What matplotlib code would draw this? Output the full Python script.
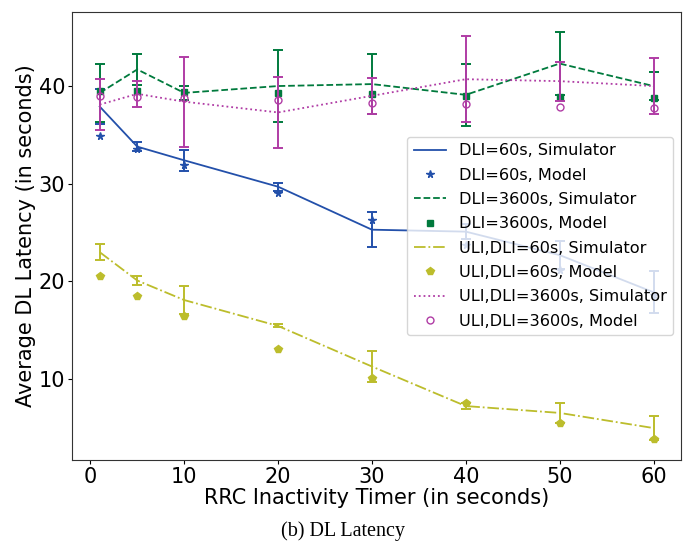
import matplotlib
matplotlib.use("Agg")
import matplotlib.pyplot as plt

timer = [1, 5, 10, 20, 30, 40, 50, 60]

dli60_sim = [37.9, 33.8, 32.4, 29.7, 25.3, 25.1, 22.7, 18.9]
dli60_err = [1.8, 0.45, 1.1, 0.4, 1.8, 0.8, 1.45, 2.15]
dli60_model = [34.9, 33.6, 31.9, 29.1, 26.3, 23.7, 21.2, 18.6]

dli3600_sim = [39.3, 41.7, 39.3, 40.0, 40.2, 39.1, 42.3, 40.0]
dli3600_err = [3.0, 1.6, 0.7, 3.7, 3.1, 3.2, 3.2, 1.4]
dli3600_model = [39.5, 39.45, 39.35, 39.25, 39.2, 39.0, 38.9, 38.8]

uli60_sim = [23.0, 20.1, 18.1, 15.45, 11.3, 7.25, 6.55, 5.0]
uli60_err = [0.85, 0.5, 1.4, 0.15, 1.6, 0.3, 1.0, 1.2]
uli60_model = [20.55, 18.5, 16.5, 13.05, 10.1, 7.6, 5.55, 3.85]

uli3600_sim = [38.1, 39.2, 38.4, 37.3, 39.0, 40.7, 40.5, 40.0]
uli3600_err = [2.6, 1.3, 4.6, 3.6, 1.85, 4.4, 2.0, 2.9]
uli3600_model = [39.0, 38.9, 38.8, 38.6, 38.3, 38.15, 37.9, 37.75]

BLUE = "#2350aa"
GREEN = "#007a3d"
OLIVE = "#bcbd2c"
MAGENTA = "#b03ca5"

plt.rcParams.update({
    "font.family": "DejaVu Sans",
    "font.size": 15,
    "axes.edgecolor": "#333333",
})


def plot(plot_file):
    fig = plt.figure(figsize=(6.86, 5.42), dpi=100)
    ax = fig.add_subplot()
    plt.subplots_adjust(left=0.105, right=0.993, top=0.978, bottom=0.151)

    series = [
        (dli60_sim, dli60_err, dli60_model, BLUE, "-", "*", 5.5, "DLI=60s"),
        (dli3600_sim, dli3600_err, dli3600_model, GREEN, "--", "s", 5, "DLI=3600s"),
        (uli60_sim, uli60_err, uli60_model, OLIVE, "-.", "p", 5.5, "ULI,DLI=60s"),
        (uli3600_sim, uli3600_err, uli3600_model, MAGENTA, ":", "o", 5, "ULI,DLI=3600s"),
    ]
    for sim, err, model, color, ls, marker, ms, name in series:
        ax.plot(timer, sim, color=color, linestyle=ls, linewidth=1.3,
                label=name + ", Simulator")
        ax.errorbar(timer, sim, yerr=err, fmt="none", ecolor=color,
                    elinewidth=1.4, capsize=3.7, capthick=1.4)
        if marker == "o":
            ax.plot(timer, model, linestyle="none", marker=marker, markersize=ms,
                    markerfacecolor="none", markeredgecolor=color,
                    markeredgewidth=1.0, label=name + ", Model")
        else:
            ax.plot(timer, model, linestyle="none", marker=marker,
                    markersize=ms, color=color, label=name + ", Model")

    ax.set_xlabel("RRC Inactivity Timer (in seconds)", fontsize=15, labelpad=1)
    ax.set_ylabel("Average DL Latency (in seconds)", fontsize=15, labelpad=2)
    ax.tick_params(labelsize=15, length=3, pad=2)
    ax.set_xticks([0, 10, 20, 30, 40, 50, 60])
    ax.set_yticks([10, 20, 30, 40])
    ax.legend(loc="center right", fontsize=11.6, labelspacing=0.58,
              borderaxespad=0.5)

    fig.text(0.5, 0.02, "(b) DL Latency", ha="center", va="center",
             family="Liberation Serif", fontsize=14.5)

    fig.savefig(plot_file, dpi=100)
    plt.close(fig)


if __name__ == "__main__":
    plot("out.png")
